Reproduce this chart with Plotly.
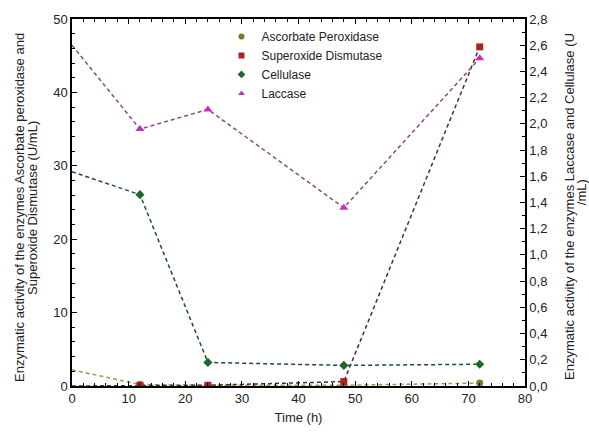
import plotly.graph_objects as go

time_h = [0, 12, 24, 48, 72]
ascorbate = [2.2, 0.2, 0.1, 0.1, 0.4]
superoxide = [0.0, 0.1, 0.1, 0.6, 46.2]
cellulase = [1.635, 1.46, 0.18, 0.157, 0.166]
laccase = [2.6, 1.96, 2.11, 1.36, 2.5]

left_ticks = [0, 10, 20, 30, 40, 50]
right_ticks = [0.0, 0.2, 0.4, 0.6, 0.8, 1.0, 1.2, 1.4, 1.6, 1.8, 2.0, 2.2, 2.4, 2.6, 2.8]
x_ticks = [0, 10, 20, 30, 40, 50, 60, 70, 80]

left_title = ["Enzymatic activity of the enzymes Ascorbate peroxidase and",
              "Superoxide Dismutase (U/mL)"]
right_title = ["Enzymatic activity of the enzymes Laccase and Cellulase (U", "/mL)"]

FONT = "Liberation Sans, Arial, sans-serif"
L, R, T, B, W, H = 72, 64, 13, 47, 589, 435
PW = W - L - R
PH = H - T - B

series = [
    ("Ascorbate Peroxidase", ascorbate, "y", "circle", "#7a7a2a", "#9a9a5a", 7),
    ("Superoxide Dismutase", superoxide, "y", "square", "#b02020", "#4a3030", 7),
    ("Cellulase", cellulase, "y2", "diamond", "#1a6a2a", "#1f4f2f", 7),
    ("Laccase", laccase, "y2", "triangle-up", "#c030c0", "#8a4a8a", 8),
]

fig = go.Figure()
for name, vals, ax, sym, mcol, lcol, ms in series:
    fig.add_trace(go.Scatter(
        x=time_h, y=vals, name=name, mode="lines+markers", showlegend=False,
        line=dict(color=lcol, dash="4px,3px", width=1.5),
        marker=dict(symbol=sym, size=[0] + [ms] * (len(time_h) - 1), color=mcol,
                    opacity=1, line=dict(width=0)),
        yaxis=ax))
for name, vals, ax, sym, mcol, lcol, ms in series:
    fig.add_trace(go.Scatter(
        x=[None], y=[None], name=name, mode="markers", showlegend=True,
        marker=dict(symbol=sym, size=6, color=mcol), yaxis=ax))

axis_common = dict(showline=True, linecolor="black", linewidth=1.5, ticks="inside",
                   ticklen=5, tickcolor="black", showgrid=False, zeroline=False,
                   tickfont=dict(family=FONT, size=13, color="#222"))

def px_x(px):
    return (px - L) / PW

def px_y(py):
    return (H - B - py) / PH

annotations = []
for text, xpx in zip(left_title, [20, 33]):
    annotations.append(dict(text=text, x=px_x(xpx), y=px_y(206), xref="paper", yref="paper",
                            textangle=-90, showarrow=False, xanchor="center", yanchor="middle",
                            font=dict(family=FONT, size=13, color="#222")))
for text, xpx, ypx in zip(right_title, [570, 581], [205, 190]):
    annotations.append(dict(text=text, x=px_x(xpx), y=px_y(ypx), xref="paper", yref="paper",
                            textangle=-90, showarrow=False, xanchor="center", yanchor="middle",
                            font=dict(family=FONT, size=13, color="#222")))

fig.update_layout(
    width=W, height=H,
    margin=dict(l=L, r=R, t=T, b=B),
    paper_bgcolor="white", plot_bgcolor="white",
    separators=",.",
    font=dict(family=FONT, color="#222"),
    showlegend=True,
    legend=dict(x=0.33, y=0.992, xanchor="left", yanchor="top",
                bgcolor="rgba(0,0,0,0)", font=dict(family=FONT, size=12, color="#222"),
                tracegroupgap=0),
    annotations=annotations,
    xaxis=dict(range=[0, 80], tickvals=x_ticks, mirror="ticks",
               minor=dict(dtick=2, ticks="inside", ticklen=3, tickcolor="black"),
               title=dict(text="Time (h)", font=dict(family=FONT, size=13), standoff=8),
               **axis_common),
    yaxis=dict(range=[0, 50], tickvals=left_ticks,
               minor=dict(dtick=2, ticks="inside", ticklen=3, tickcolor="black"),
               **axis_common),
    yaxis2=dict(range=[0, 2.8], tickvals=right_ticks, tickformat=".1f",
                overlaying="y", side="right", anchor="x",
                minor=dict(dtick=0.1, ticks="inside", ticklen=3, tickcolor="black"),
                **axis_common),
)

fig.write_html("out.html")
